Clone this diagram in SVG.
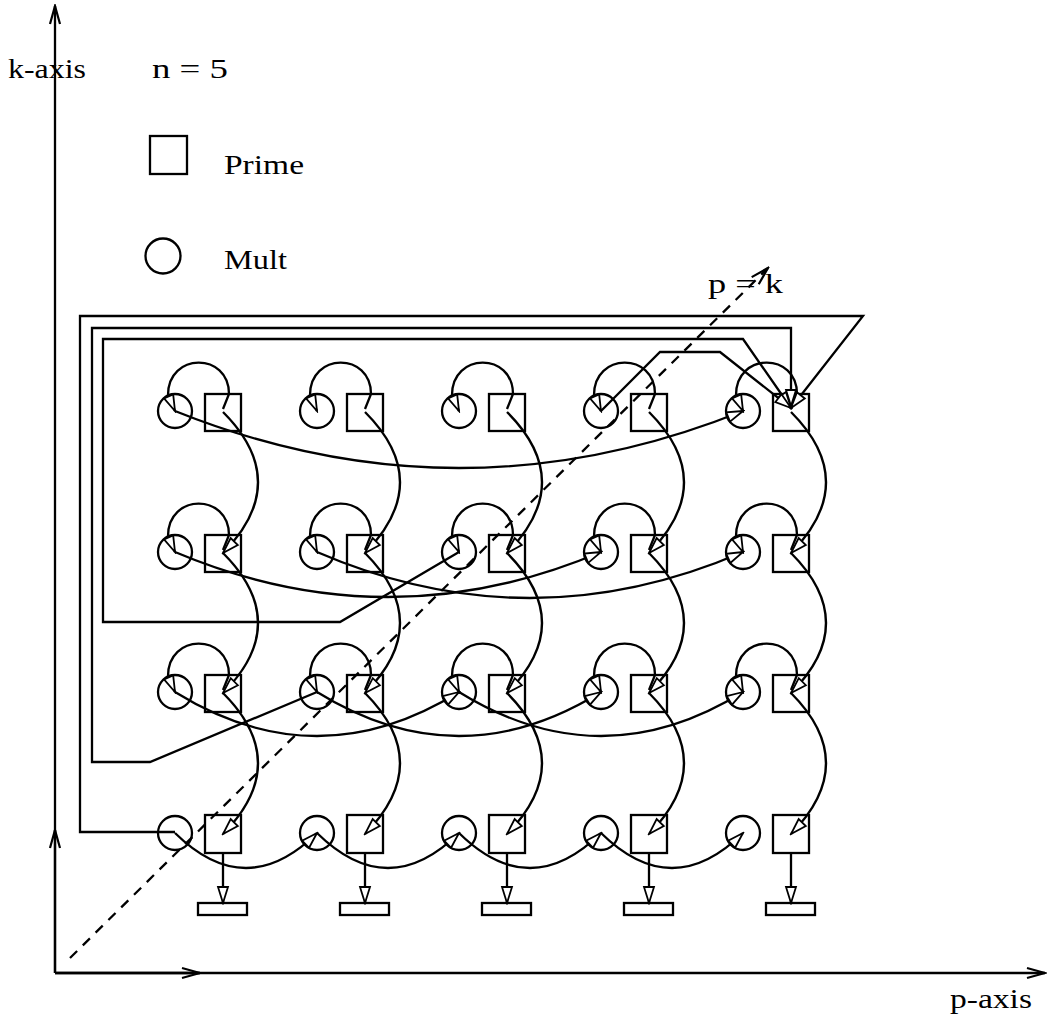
<svg xmlns="http://www.w3.org/2000/svg" width="1052" height="1021" viewBox="0 0 1052 1021">
<style>
.n{fill:none;stroke:#000;stroke-width:2.3}
.c{fill:none;stroke:#000;stroke-width:2.3}
.a{marker-end:url(#ah)}
.v{marker-end:url(#vee)}
.t{font-family:"Liberation Serif","Times New Roman",serif;font-size:28px;fill:#000}
</style>
<defs>
<marker id="ah" viewBox="-20 -8 22 16" refX="0" refY="0" markerWidth="22" markerHeight="16" orient="auto" markerUnits="userSpaceOnUse"><path d="M0,0 L-16,-5 L-16,5 Z" fill="#fff" stroke="#000" stroke-width="1.8"/></marker>
<marker id="vee" viewBox="-20 -8 22 16" refX="0" refY="0" markerWidth="22" markerHeight="16" orient="auto" markerUnits="userSpaceOnUse"><path d="M-18,-5 L0,0 L-18,5" fill="none" stroke="#000" stroke-width="2.2"/></marker>
</defs>
<rect width="1052" height="1021" fill="#fff"/>

<g id="axes">
<path class="c v" d="M55,973 L55,6"/>
<path class="c v" d="M55,973 L1045,973"/>
<path class="c v" d="M55,973 L55,830"/>
<path class="c v" d="M55,973 L200,973"/>
<text class="t" x="8" y="78" textLength="78" lengthAdjust="spacingAndGlyphs">k-axis</text>
<text class="t" x="950" y="1008" textLength="82" lengthAdjust="spacingAndGlyphs">p-axis</text>
</g>

<g id="legend">
<text class="t" x="152" y="78" textLength="76" lengthAdjust="spacingAndGlyphs">n = 5</text>
<rect class="n" x="150" y="136" width="37" height="38"/>
<text class="t" x="224" y="174" textLength="80" lengthAdjust="spacingAndGlyphs">Prime</text>
<circle class="n" cx="163" cy="256" r="17.5"/>
<text class="t" x="224" y="269" textLength="63" lengthAdjust="spacingAndGlyphs">Mult</text>
</g>

<g id="diagonal">
<path class="c v" d="M70,958 L768,268" stroke-dasharray="10 8"/>
<text class="t" x="708" y="293" textLength="75" lengthAdjust="spacingAndGlyphs">p = k</text>
</g>

<g id="nodes">
<g id="mult-1-1"><circle class="n" cx="175" cy="411" r="17"/></g>
<g id="prime-1-1"><rect class="n" x="205" y="394" width="36" height="37"/></g>
<g id="mult-2-1"><circle class="n" cx="317" cy="411" r="17"/></g>
<g id="prime-2-1"><rect class="n" x="347" y="394" width="36" height="37"/></g>
<g id="mult-3-1"><circle class="n" cx="459" cy="411" r="17"/></g>
<g id="prime-3-1"><rect class="n" x="489" y="394" width="36" height="37"/></g>
<g id="mult-4-1"><circle class="n" cx="601" cy="411" r="17"/></g>
<g id="prime-4-1"><rect class="n" x="631" y="394" width="36" height="37"/></g>
<g id="mult-5-1"><circle class="n" cx="743" cy="411" r="17"/></g>
<g id="prime-5-1"><rect class="n" x="773" y="394" width="36" height="37"/></g>

<g id="mult-1-2"><circle class="n" cx="175" cy="552" r="17"/></g>
<g id="prime-1-2"><rect class="n" x="205" y="535" width="36" height="37"/></g>
<g id="mult-2-2"><circle class="n" cx="317" cy="552" r="17"/></g>
<g id="prime-2-2"><rect class="n" x="347" y="535" width="36" height="37"/></g>
<g id="mult-3-2"><circle class="n" cx="459" cy="552" r="17"/></g>
<g id="prime-3-2"><rect class="n" x="489" y="535" width="36" height="37"/></g>
<g id="mult-4-2"><circle class="n" cx="601" cy="552" r="17"/></g>
<g id="prime-4-2"><rect class="n" x="631" y="535" width="36" height="37"/></g>
<g id="mult-5-2"><circle class="n" cx="743" cy="552" r="17"/></g>
<g id="prime-5-2"><rect class="n" x="773" y="535" width="36" height="37"/></g>

<g id="mult-1-3"><circle class="n" cx="175" cy="692" r="17"/></g>
<g id="prime-1-3"><rect class="n" x="205" y="675" width="36" height="37"/></g>
<g id="mult-2-3"><circle class="n" cx="317" cy="692" r="17"/></g>
<g id="prime-2-3"><rect class="n" x="347" y="675" width="36" height="37"/></g>
<g id="mult-3-3"><circle class="n" cx="459" cy="692" r="17"/></g>
<g id="prime-3-3"><rect class="n" x="489" y="675" width="36" height="37"/></g>
<g id="mult-4-3"><circle class="n" cx="601" cy="692" r="17"/></g>
<g id="prime-4-3"><rect class="n" x="631" y="675" width="36" height="37"/></g>
<g id="mult-5-3"><circle class="n" cx="743" cy="692" r="17"/></g>
<g id="prime-5-3"><rect class="n" x="773" y="675" width="36" height="37"/></g>

<g id="mult-1-4"><circle class="n" cx="175" cy="833" r="17"/></g>
<g id="prime-1-4"><rect class="n" x="205" y="815" width="36" height="38"/></g>
<g id="mult-2-4"><circle class="n" cx="317" cy="833" r="17"/></g>
<g id="prime-2-4"><rect class="n" x="347" y="815" width="36" height="38"/></g>
<g id="mult-3-4"><circle class="n" cx="459" cy="833" r="17"/></g>
<g id="prime-3-4"><rect class="n" x="489" y="815" width="36" height="38"/></g>
<g id="mult-4-4"><circle class="n" cx="601" cy="833" r="17"/></g>
<g id="prime-4-4"><rect class="n" x="631" y="815" width="36" height="38"/></g>
<g id="mult-5-4"><circle class="n" cx="743" cy="833" r="17"/></g>
<g id="prime-5-4"><rect class="n" x="773" y="815" width="36" height="38"/></g>

<g id="out-1"><rect class="n" x="198" y="903" width="49" height="12"/></g>
<g id="out-2"><rect class="n" x="340" y="903" width="49" height="12"/></g>
<g id="out-3"><rect class="n" x="482" y="903" width="49" height="12"/></g>
<g id="out-4"><rect class="n" x="624" y="903" width="49" height="12"/></g>
<g id="out-5"><rect class="n" x="766" y="903" width="49" height="12"/></g>
</g>

<g id="connectors">
<path class="c a" d="M223,409 L229,394 C229,352 168,352 168,395 L175,411"/>
<path class="c a" d="M365,409 L371,394 C371,352 310,352 310,395 L317,411"/>
<path class="c a" d="M507,409 L513,394 C513,352 452,352 452,395 L459,411"/>
<path class="c a" d="M649,409 L655,394 C655,352 594,352 594,395 L601,411"/>
<path class="c a" d="M791,409 L797,394 C797,352 736,352 736,395 L743,411"/>

<path class="c a" d="M223,550 L229,535 C229,493 168,493 168,536 L175,552"/>
<path class="c a" d="M365,550 L371,535 C371,493 310,493 310,536 L317,552"/>
<path class="c a" d="M507,550 L513,535 C513,493 452,493 452,536 L459,552"/>
<path class="c a" d="M649,550 L655,535 C655,493 594,493 594,536 L601,552"/>
<path class="c a" d="M791,550 L797,535 C797,493 736,493 736,536 L743,552"/>

<path class="c a" d="M223,690 L229,675 C229,633 168,633 168,676 L175,692"/>
<path class="c a" d="M365,690 L371,675 C371,633 310,633 310,676 L317,692"/>
<path class="c a" d="M507,690 L513,675 C513,633 452,633 452,676 L459,692"/>
<path class="c a" d="M649,690 L655,675 C655,633 594,633 594,676 L601,692"/>
<path class="c a" d="M791,690 L797,675 C797,633 736,633 736,676 L743,692"/>

<path class="c a" d="M223,412 Q293,482 223,553"/>
<path class="c a" d="M365,412 Q435,482 365,553"/>
<path class="c a" d="M507,412 Q577,482 507,553"/>
<path class="c a" d="M649,412 Q719,482 649,553"/>
<path class="c a" d="M791,412 Q861,482 791,553"/>

<path class="c a" d="M223,553 Q293,623 223,693"/>
<path class="c a" d="M365,553 Q435,623 365,693"/>
<path class="c a" d="M507,553 Q577,623 507,693"/>
<path class="c a" d="M649,553 Q719,623 649,693"/>
<path class="c a" d="M791,553 Q861,623 791,693"/>

<path class="c a" d="M223,693 Q293,763 223,834"/>
<path class="c a" d="M365,693 Q435,763 365,834"/>
<path class="c a" d="M507,693 Q577,763 507,834"/>
<path class="c a" d="M649,693 Q719,763 649,834"/>
<path class="c a" d="M791,693 Q861,763 791,834"/>

<path class="c a" d="M175,411 Q459,525 743,411"/>
<path class="c a" d="M175,552 Q388,642 601,552"/>
<path class="c a" d="M317,552 Q530,644 743,552"/>
<path class="c a" d="M175,692 Q317,780 459,692"/>
<path class="c a" d="M317,692 Q459,780 601,692"/>
<path class="c a" d="M459,692 Q601,780 743,692"/>
<path class="c a" d="M175,833 Q246,903 317,833"/>
<path class="c a" d="M317,833 Q388,903 459,833"/>
<path class="c a" d="M459,833 Q530,903 601,833"/>
<path class="c a" d="M601,833 Q672,903 743,833"/>

<path class="c a" d="M223,853 L223,903"/>
<path class="c a" d="M365,853 L365,903"/>
<path class="c a" d="M507,853 L507,903"/>
<path class="c a" d="M649,853 L649,903"/>
<path class="c a" d="M791,853 L791,903"/>

<path class="c a" d="M175,832 L80,832 L80,316 L863,316 L791,408"/>
<path class="c a" d="M317,692 L150,762 L92,762 L92,328 L791,328 L791,406"/>
<path class="c a" d="M459,552 L340,622 L103,622 L103,339 L743,339 L791,408"/>
<path class="c a" d="M601,411 L660,352 L720,352 L791,408"/>
</g>
</svg>
